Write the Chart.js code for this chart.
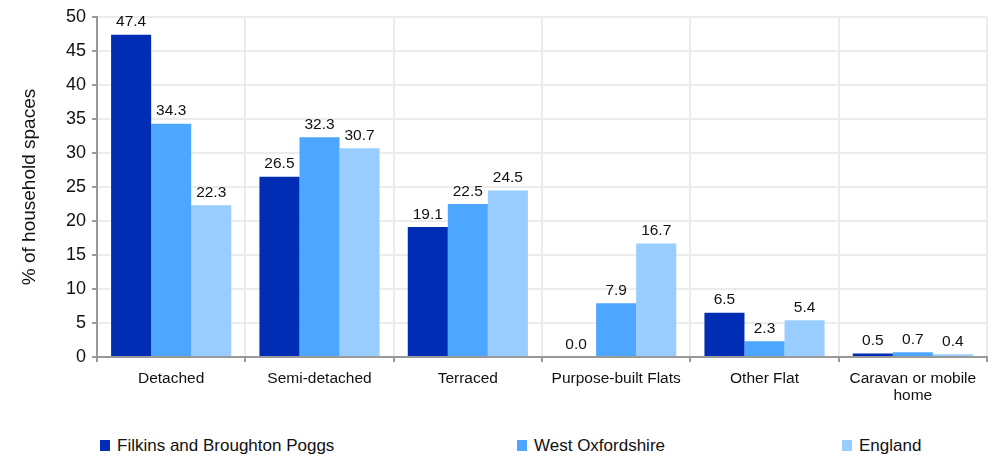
<!DOCTYPE html>
<html>
<head>
<meta charset="utf-8">
<script src="https://cdn.jsdelivr.net/npm/chart.js@4"></script>
<style>
  body { margin: 0; background: #fff; font-family: "Liberation Sans", Arial, sans-serif; }
  #wrap { position: relative; width: 992px; height: 420px; }
  #legend { position: relative; width: 992px; height: 38px; }
  .item { position: absolute; top: 16px; font-size: 17px; color: #111; line-height: 20px; }
  .item span.box { display: inline-block; width: 10px; height: 11px; margin-right: 7px; vertical-align: 0px; }
</style>
</head>
<body>
<div id="wrap"><canvas id="chart"></canvas></div>
<div id="legend"></div>
<script>
// categories and values
const categories = ['Detached', 'Semi-detached', 'Terraced', 'Purpose-built Flats', 'Other Flat', ['Caravan or mobile', 'home']];
const filkins = [47.4, 26.5, 19.1, 0.0, 6.5, 0.5];
const westOxon = [34.3, 32.3, 22.5, 7.9, 2.3, 0.7];
const england = [22.3, 30.7, 24.5, 16.7, 5.4, 0.4];
const seriesNames = ['Filkins and Broughton Poggs', 'West Oxfordshire', 'England'];
const yTicks = [0, 5, 10, 15, 20, 25, 30, 35, 40, 45, 50];

const colors = ['#002db3', '#4da6ff', '#99ccff'];
const legendX = [100, 517, 842];
const fontFamily = '"Liberation Sans", Arial, sans-serif';

// values above the bars
const valueLabels = {
    id: 'valueLabels',
    afterDatasetsDraw(chart) {
        const ctx = chart.ctx;
        ctx.save();
        ctx.font = '15.5px ' + fontFamily;
        ctx.fillStyle = '#111';
        ctx.textAlign = 'center';
        ctx.textBaseline = 'bottom';
        chart.data.datasets.forEach((ds, i) => {
            chart.getDatasetMeta(i).data.forEach((bar, j) => {
                ctx.fillText(ds.data[j].toFixed(1), bar.x, bar.y - 5);
            });
        });
        ctx.restore();
    }
};

const ctx = document.getElementById('chart').getContext('2d');
new Chart(ctx, {
    type: 'bar',
    data: {
        labels: categories,
        datasets: [
            { label: seriesNames[0], data: filkins, backgroundColor: colors[0] },
            { label: seriesNames[1], data: westOxon, backgroundColor: colors[1] },
            { label: seriesNames[2], data: england, backgroundColor: colors[2] }
        ]
    },
    options: {
        responsive: true,
        maintainAspectRatio: false,
        animation: false,
        layout: { padding: { top: 17, right: 5, left: 0, bottom: 0 } },
        datasets: { bar: { categoryPercentage: 0.81, barPercentage: 1.0 } },
        scales: {
            x: {
                grid: { color: '#ececec', lineWidth: 2, tickColor: '#999', tickLength: 5, offset: true },
                border: { color: '#999', width: 2 },
                ticks: { color: '#111', font: { size: 15.5, family: fontFamily, lineHeight: 1.1 }, maxRotation: 0, padding: 8 },
                afterFit(scale) { scale.height = 420 - 357; }
            },
            y: {
                min: 0,
                max: 50,
                afterBuildTicks(scale) { scale.ticks = yTicks.map(v => ({ value: v })); },
                grid: { color: '#ececec', lineWidth: 2, tickColor: '#999', tickLength: 5 },
                border: { color: '#999', width: 2 },
                ticks: { color: '#111', font: { size: 18, family: fontFamily }, padding: 6 },
                title: { display: true, text: '% of household spaces', color: '#111', font: { size: 19, family: fontFamily }, padding: { top: 18, bottom: 0 } },
                afterFit(scale) { scale.width = 97; }
            }
        },
        plugins: {
            legend: { display: false },
            tooltip: { enabled: false }
        }
    },
    plugins: [valueLabels]
});

// legend below the chart
const legend = document.getElementById('legend');
seriesNames.forEach((name, i) => {
    const d = document.createElement('div');
    d.className = 'item';
    d.style.left = legendX[i] + 'px';
    d.innerHTML = '<span class="box" style="background:' + colors[i] + '"></span>' + name;
    legend.appendChild(d);
});
</script>
</body>
</html>
